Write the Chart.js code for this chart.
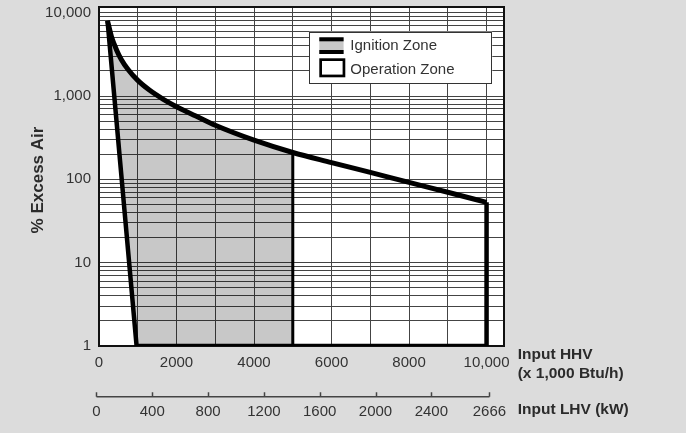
<!DOCTYPE html>
<html>
<head>
<meta charset="utf-8">
<script src="https://cdn.jsdelivr.net/npm/chart.js@4.4.1/dist/chart.umd.min.js"></script>
<style>
html,body{margin:0;padding:0;background:#dcdcdc;}
#wrap{width:686px;height:433px;position:relative;}
</style>
</head>
<body>
<div id="wrap"><canvas id="chart"></canvas></div>
<script>
// upper boundary curve (% excess air vs input HHV)
const upperX = [220,320,450,575,750,1000,1300,1650,2000,2500,3000,4000,5000,6000,7000,8000,9000,10000];
const upperY = [8000,5200,3600,2750,2080,1540,1180,920,745,575,445,295,210,159,121,92,70,53];
// left line, bottom and right end of the operation zone
const edgeX = [220,970,10000,10000];
const edgeY = [8000,1,1,53];
// right end of the ignition zone
const ignitionEndX = [5000,5000];
const ignitionEndY = [1,210];

const legendLabels = ["Ignition Zone","Operation Zone"];

// axes
const hhvGrid = [0,1000,2000,3000,4000,5000,6000,7000,8000,9000,10000];
const hhvLabelValues = [0,2000,4000,6000,8000,10000];
const hhvLabelText = ["0","2000","4000","6000","8000","10,000"];
const lhvLabels = ["0","400","800","1200","1600","2000","2400","2666"];
const lhvAtHhv = [-65,1375,2815,4255,5695,7135,8575,10075]; // where the kW ticks sit on the HHV scale
const yDecades = [1,10,100,1000];
const yMinor = [1,2,3,4,5,6,7,8,9];
const yLabelValues = [1,10,100,1000,10000];
const yLabelText = ["1","10","100","1,000","10,000"];

const pts = (xs,ys) => xs.map((x,i)=>({x:x,y:ys[i]}));

const ignitionFill = pts(upperX,upperY).filter(p=>p.x<=ignitionEndX[0])
  .concat([{x:ignitionEndX[0],y:ignitionEndY[0]},{x:edgeX[1],y:edgeY[1]}]);

const yGrid = [];
yDecades.forEach(d=>yMinor.forEach(m=>yGrid.push(d*m)));
yGrid.push(10000);

Chart.defaults.font.family = '"Liberation Sans", Arial, Helvetica, sans-serif';
Chart.defaults.font.size = 15;
Chart.defaults.color = "#333";

const TXT = "#2b2b2b";

const decor = {
  id:"decor",
  beforeDraw(chart){
    const {ctx, chartArea:a} = chart;
    ctx.save();
    ctx.fillStyle = "#fff";
    ctx.fillRect(a.left,a.top,a.right-a.left,a.bottom-a.top);
    ctx.restore();
  },
  beforeDatasetsDraw(chart){
    const {ctx, chartArea:a} = chart;
    ctx.save();
    ctx.strokeStyle = "#111";
    ctx.lineWidth = 2;
    ctx.strokeRect(a.left,a.top,a.right-a.left,a.bottom-a.top);
    ctx.restore();
  },
  afterDraw(chart){
    const {ctx, chartArea:a} = chart;
    const xl = chart.scales.xl;
    ctx.save();
    // LHV axis line and ticks
    const ly = xl.top + 15.7;
    ctx.strokeStyle = "#444";
    ctx.lineWidth = 1.5;
    ctx.beginPath();
    ctx.moveTo(xl.getPixelForValue(lhvAtHhv[0]),ly);
    ctx.lineTo(xl.getPixelForValue(lhvAtHhv[lhvAtHhv.length-1]),ly);
    lhvAtHhv.forEach(v=>{
      const px = Math.round(xl.getPixelForValue(v))+0.5;
      ctx.moveTo(px,ly);
      ctx.lineTo(px,ly-4.5);
    });
    ctx.stroke();

    // axis titles
    ctx.fillStyle = TXT;
    ctx.textBaseline = "middle";
    ctx.save();
    ctx.font = 'bold 17px "Liberation Sans", Arial, sans-serif';
    ctx.textAlign = "center";
    ctx.translate(38.3, (a.top + a.bottom)/2 + 3.5);
    ctx.rotate(-Math.PI/2);
    ctx.fillText("% Excess Air", 0, 0);
    ctx.restore();

    ctx.font = 'bold 15.5px "Liberation Sans", Arial, sans-serif';
    ctx.textAlign = "left";
    const tx = a.right + 13.7;
    ctx.fillText("Input HHV", tx, a.bottom + 9);
    ctx.fillText("(x 1,000 Btu/h)", tx, a.bottom + 28);
    ctx.fillText("Input LHV (kW)", tx, xl.top + 29);

    // legend
    const bx = a.right - 194.7, by = a.top + 24.7;
    ctx.fillStyle = "#fff";
    ctx.fillRect(bx,by,183,51.6);
    ctx.strokeStyle = "#333";
    ctx.lineWidth = 1;
    ctx.strokeRect(Math.round(bx)+0.5,Math.round(by)+0.5,182,51);
    ctx.fillStyle = "#c8c8c8";
    ctx.fillRect(bx+10,by+5.6,24.3,16.7);
    ctx.fillStyle = "#000";
    ctx.fillRect(bx+10,by+5.6,24.3,4);
    ctx.fillRect(bx+10,by+18.3,24.3,4);
    ctx.strokeStyle = "#000";
    ctx.lineWidth = 2.7;
    ctx.strokeRect(bx+11.35,by+27.95,23.3,16.3);
    ctx.fillStyle = "#333";
    ctx.font = '15px "Liberation Sans", Arial, sans-serif';
    ctx.fillText(legendLabels[0], bx+41, by+14);
    ctx.fillText(legendLabels[1], bx+41, by+38.3);
    ctx.restore();
  }
};

new Chart(document.getElementById("chart"),{
  type:"line",
  data:{
    datasets:[
      {
        label:legendLabels[0],
        data:ignitionFill,
        fill:"shape",
        backgroundColor:"rgba(0,0,0,0.215)",
        borderWidth:0,
        pointRadius:0,
        tension:0
      },
      {
        label:"ignitionEnd",
        data:pts(ignitionEndX,ignitionEndY),
        borderColor:"#000",
        borderWidth:3,
        pointRadius:0,
        fill:false
      },
      {
        label:legendLabels[1],
        data:pts(upperX,upperY),
        borderColor:"#000",
        borderWidth:5,
        pointRadius:0,
        cubicInterpolationMode:"monotone",
        fill:false
      },
      {
        label:"edge",
        data:pts(edgeX,edgeY),
        borderColor:"#000",
        borderWidth:4.5,
        borderJoinStyle:"miter",
        pointRadius:0,
        tension:0,
        fill:false
      }
    ]
  },
  options:{
    responsive:true,
    maintainAspectRatio:false,
    devicePixelRatio:1,
    animation:false,
    events:[],
    layout:{padding:{left:0,right:182,top:7,bottom:0}},
    plugins:{legend:{display:false},tooltip:{enabled:false}},
    scales:{
      x:{
        type:"linear",
        position:"bottom",
        weight:0,
        min:0,
        max:10450,
        grid:{color:"#444",lineWidth:1,drawTicks:false},
        border:{display:false},
        ticks:{
          autoSkip:false,
          maxRotation:0,
          padding:8,
          callback:(v)=>{
            const i = hhvLabelValues.indexOf(v);
            return i<0 ? "" : hhvLabelText[i];
          }
        },
        afterBuildTicks:(s)=>{ s.ticks = hhvGrid.map(v=>({value:v})); },
        afterFit:(s)=>{ s.height = 35; s.paddingLeft = 0; s.paddingRight = 0; }
      },
      xl:{
        type:"linear",
        position:"bottom",
        weight:1,
        min:0,
        max:10450,
        grid:{display:false,drawTicks:false},
        border:{display:false},
        ticks:{
          autoSkip:false,
          maxRotation:0,
          padding:22,
          callback:(v,i)=>lhvLabels[i]
        },
        afterBuildTicks:(s)=>{ s.ticks = lhvAtHhv.map(v=>({value:v})); },
        afterFit:(s)=>{ s.height = 52; s.paddingLeft = 0; s.paddingRight = 0; }
      },
      y:{
        type:"logarithmic",
        min:1,
        max:11700,
        grid:{color:"#444",lineWidth:1,drawTicks:false},
        border:{display:false},
        ticks:{
          autoSkip:false,
          padding:8,
          callback:(v)=>{
            const i = yLabelValues.indexOf(v);
            return i<0 ? "" : yLabelText[i];
          }
        },
        afterBuildTicks:(s)=>{ s.ticks = yGrid.map(v=>({value:v})); },
        afterFit:(s)=>{ s.width = 99; s.paddingTop = 0; s.paddingBottom = 0; }
      }
    }
  },
  plugins:[decor]
});
</script>
</body>
</html>
